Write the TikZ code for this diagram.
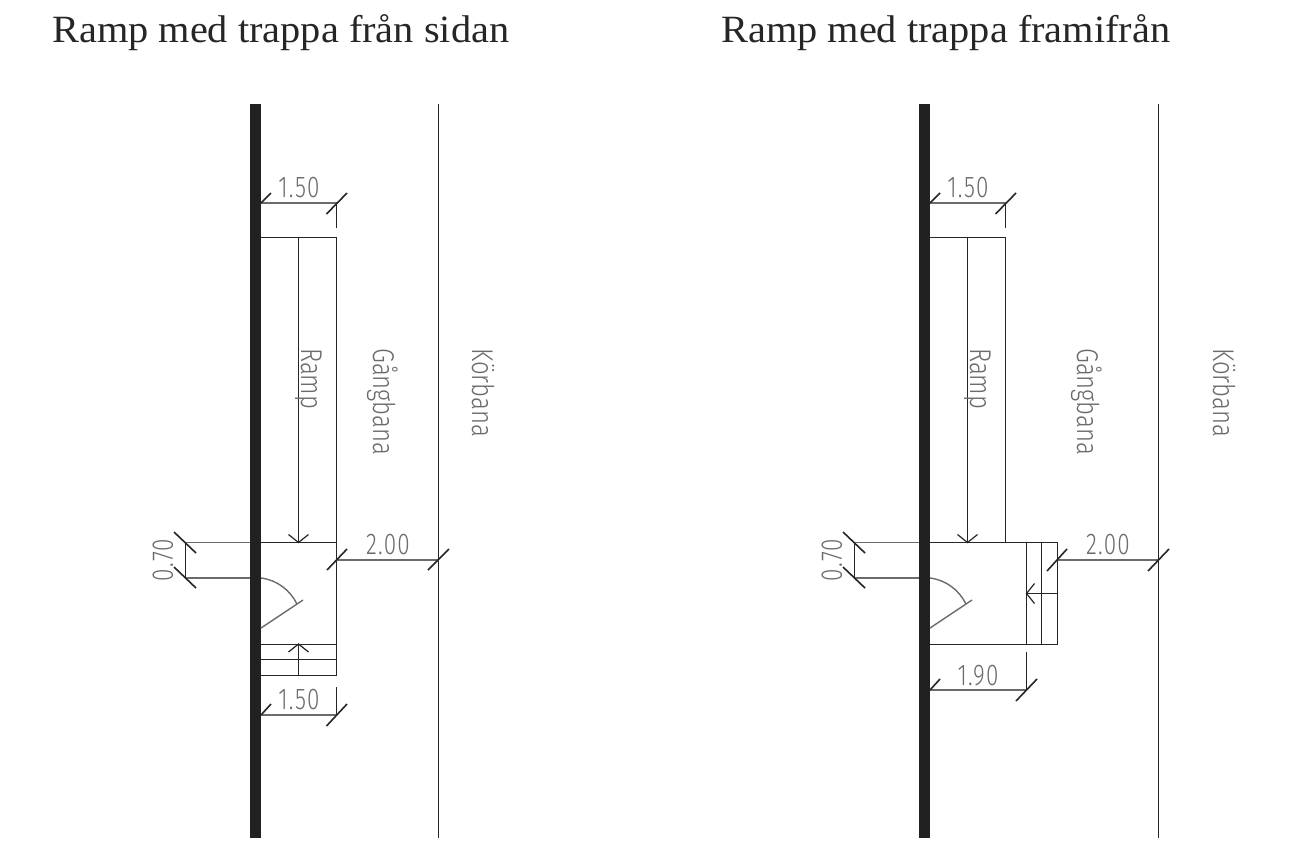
\documentclass[tikz,border=0pt]{standalone}
\usepackage{fontspec}
\setmainfont[FakeStretch=1.045]{Liberation Serif}
\newfontfamily\dimf[FakeStretch=0.75,UprightFont=* Light,LetterSpace=4]{Fira Sans}
\newfontfamily\labf[FakeStretch=0.8,UprightFont=* Light]{Fira Sans}
\definecolor{ink}{gray}{0.15}
\definecolor{dimc}{gray}{0.42}
\tikzset{
  x=1pt,y=-1pt,
  thin line/.style={draw=ink,line width=1.2pt},
  dim line/.style={draw=dimc,line width=1.5pt},
  tick line/.style={draw=ink,line width=1.6pt},
  door line/.style={draw=dimc,line width=1.4pt},
  wall/.style={fill=ink!85!black,draw=none},
  title text/.style={font=\fontsize{38.6}{40}\selectfont,text=ink,anchor=base west,inner sep=0pt},
  dim text/.style={font=\dimf\fontsize{30}{30}\selectfont,text=dimc,inner sep=0pt,anchor=center},
  lab text/.style={font=\labf\fontsize{30}{30}\selectfont,text=dimc,inner sep=0pt,rotate=-90,anchor=base west},
  open tip/.style={draw=ink,line width=1.2pt}
}
% common part of a panel: shift, road x, gangbana x, korbana x
\newcommand{\panelbase}[4]{%
\begin{scope}[shift={(#1,0)}]
  \fill[wall] (250,104) rectangle (261,838);
  \draw[thin line] (#2,104) -- (#2,838);
  % ramp
  \draw[thin line] (261,237.5) -- (336.5,237.5) -- (336.5,542.5);
  \draw[thin line] (298.5,237.5) -- (298.5,542.5);
  \draw[open tip] (288.5,534.5) -- (298.5,542.5) -- (308.5,534.5);
  \draw[thin line] (261,542.5) -- (336.5,542.5);
  % door
  \draw[door line] (261,578) .. controls (277,580) and (290,590) .. (297,604);
  \draw[door line] (261,628) -- (303,600);
  % dim 1.50 top
  \draw[dim line] (261,203) -- (336.5,203);
  \draw[thin line] (336.5,203) -- (336.5,228);
  \draw[tick line] (261,203) -- (271,193);
  \draw[tick line] (326.5,214) -- (347,193);
  \node[dim text] (top#1) at (299,188) {1.50};
  % dim 0.70
  \draw[dim line] (185,542.5) -- (250,542.5);
  \draw[dim line] (185,578) -- (250,578);
  \draw[thin line] (185.5,542.5) -- (185.5,578);
  \draw[tick line] (174,532) -- (196,553);
  \draw[tick line] (174,567) -- (196,588);
  \node[dim text,rotate=90] (sev#1) at (163,560) {0.70};
  % labels
  \node[lab text] (ramp#1) at (301,348) {Ramp};
  \node[lab text] (gang#1) at (#3,348) {Gångbana};
  \node[lab text] (kor#1) at (#4,348) {Körbana};
\end{scope}}
\begin{document}
\begin{tikzpicture}
\useasboundingbox (0,0) rectangle (1311,852);
\fill[white] (0,0) rectangle (1311,852);
\node[title text] (t1) at (52,42) {Ramp med trappa från sidan};
\node[title text] (t2) at (721,42) {Ramp med trappa framifrån};
\panelbase{0}{438.5}{373}{472}
\panelbase{669}{489.5}{408}{544}
% left panel: steps
\draw[thin line] (261,644.5) -- (336.5,644.5) -- (336.5,675.5) -- (261,675.5);
\draw[thin line] (336.5,542) -- (336.5,644.5);
\draw[thin line] (261,659.5) -- (336.5,659.5);
\draw[thin line] (298.5,675) -- (298.5,644);
\draw[open tip] (288.5,652) -- (298.5,644) -- (308.5,652);
% left panel: dim 2.00
\draw[dim line] (336.5,560) -- (438.5,560);
\draw[tick line] (327,570) -- (347,549);
\draw[tick line] (428,570) -- (449,549);
\node[dim text] (w1) at (388,545) {2.00};
% left panel: dim 1.50 bottom
\draw[dim line] (261,715) -- (336.5,715);
\draw[thin line] (336.5,687) -- (336.5,715);
\draw[tick line] (261,715) -- (271,704);
\draw[tick line] (326.5,726) -- (347,704);
\node[dim text] (b1) at (299,700) {1.50};
% right panel: landing and steps
\draw[thin line] (930,542.5) -- (1057.5,542.5) -- (1057.5,644.5) -- (930,644.5);
\draw[thin line] (1026.5,542.5) -- (1026.5,644.5);
\draw[thin line] (1041.5,542.5) -- (1041.5,644.5);
\draw[thin line] (1057.5,593.5) -- (1026.5,593.5);
\draw[open tip] (1034.5,583.5) -- (1026.5,593.5) -- (1034.5,603.5);
% right panel: dim 2.00
\draw[dim line] (1057.5,560) -- (1158.5,560);
\draw[tick line] (1047,571) -- (1067,549);
\draw[tick line] (1148,571) -- (1169,549);
\node[dim text] (w2) at (1108,545) {2.00};
% right panel: dim 1.90
\draw[dim line] (930,690) -- (1026.5,690);
\draw[thin line] (1026.5,652) -- (1026.5,690);
\draw[tick line] (930,690) -- (940,679);
\draw[tick line] (1016,701) -- (1037,679);
\node[dim text] (b2) at (978,676) {1.90};
\end{tikzpicture}
\end{document}
